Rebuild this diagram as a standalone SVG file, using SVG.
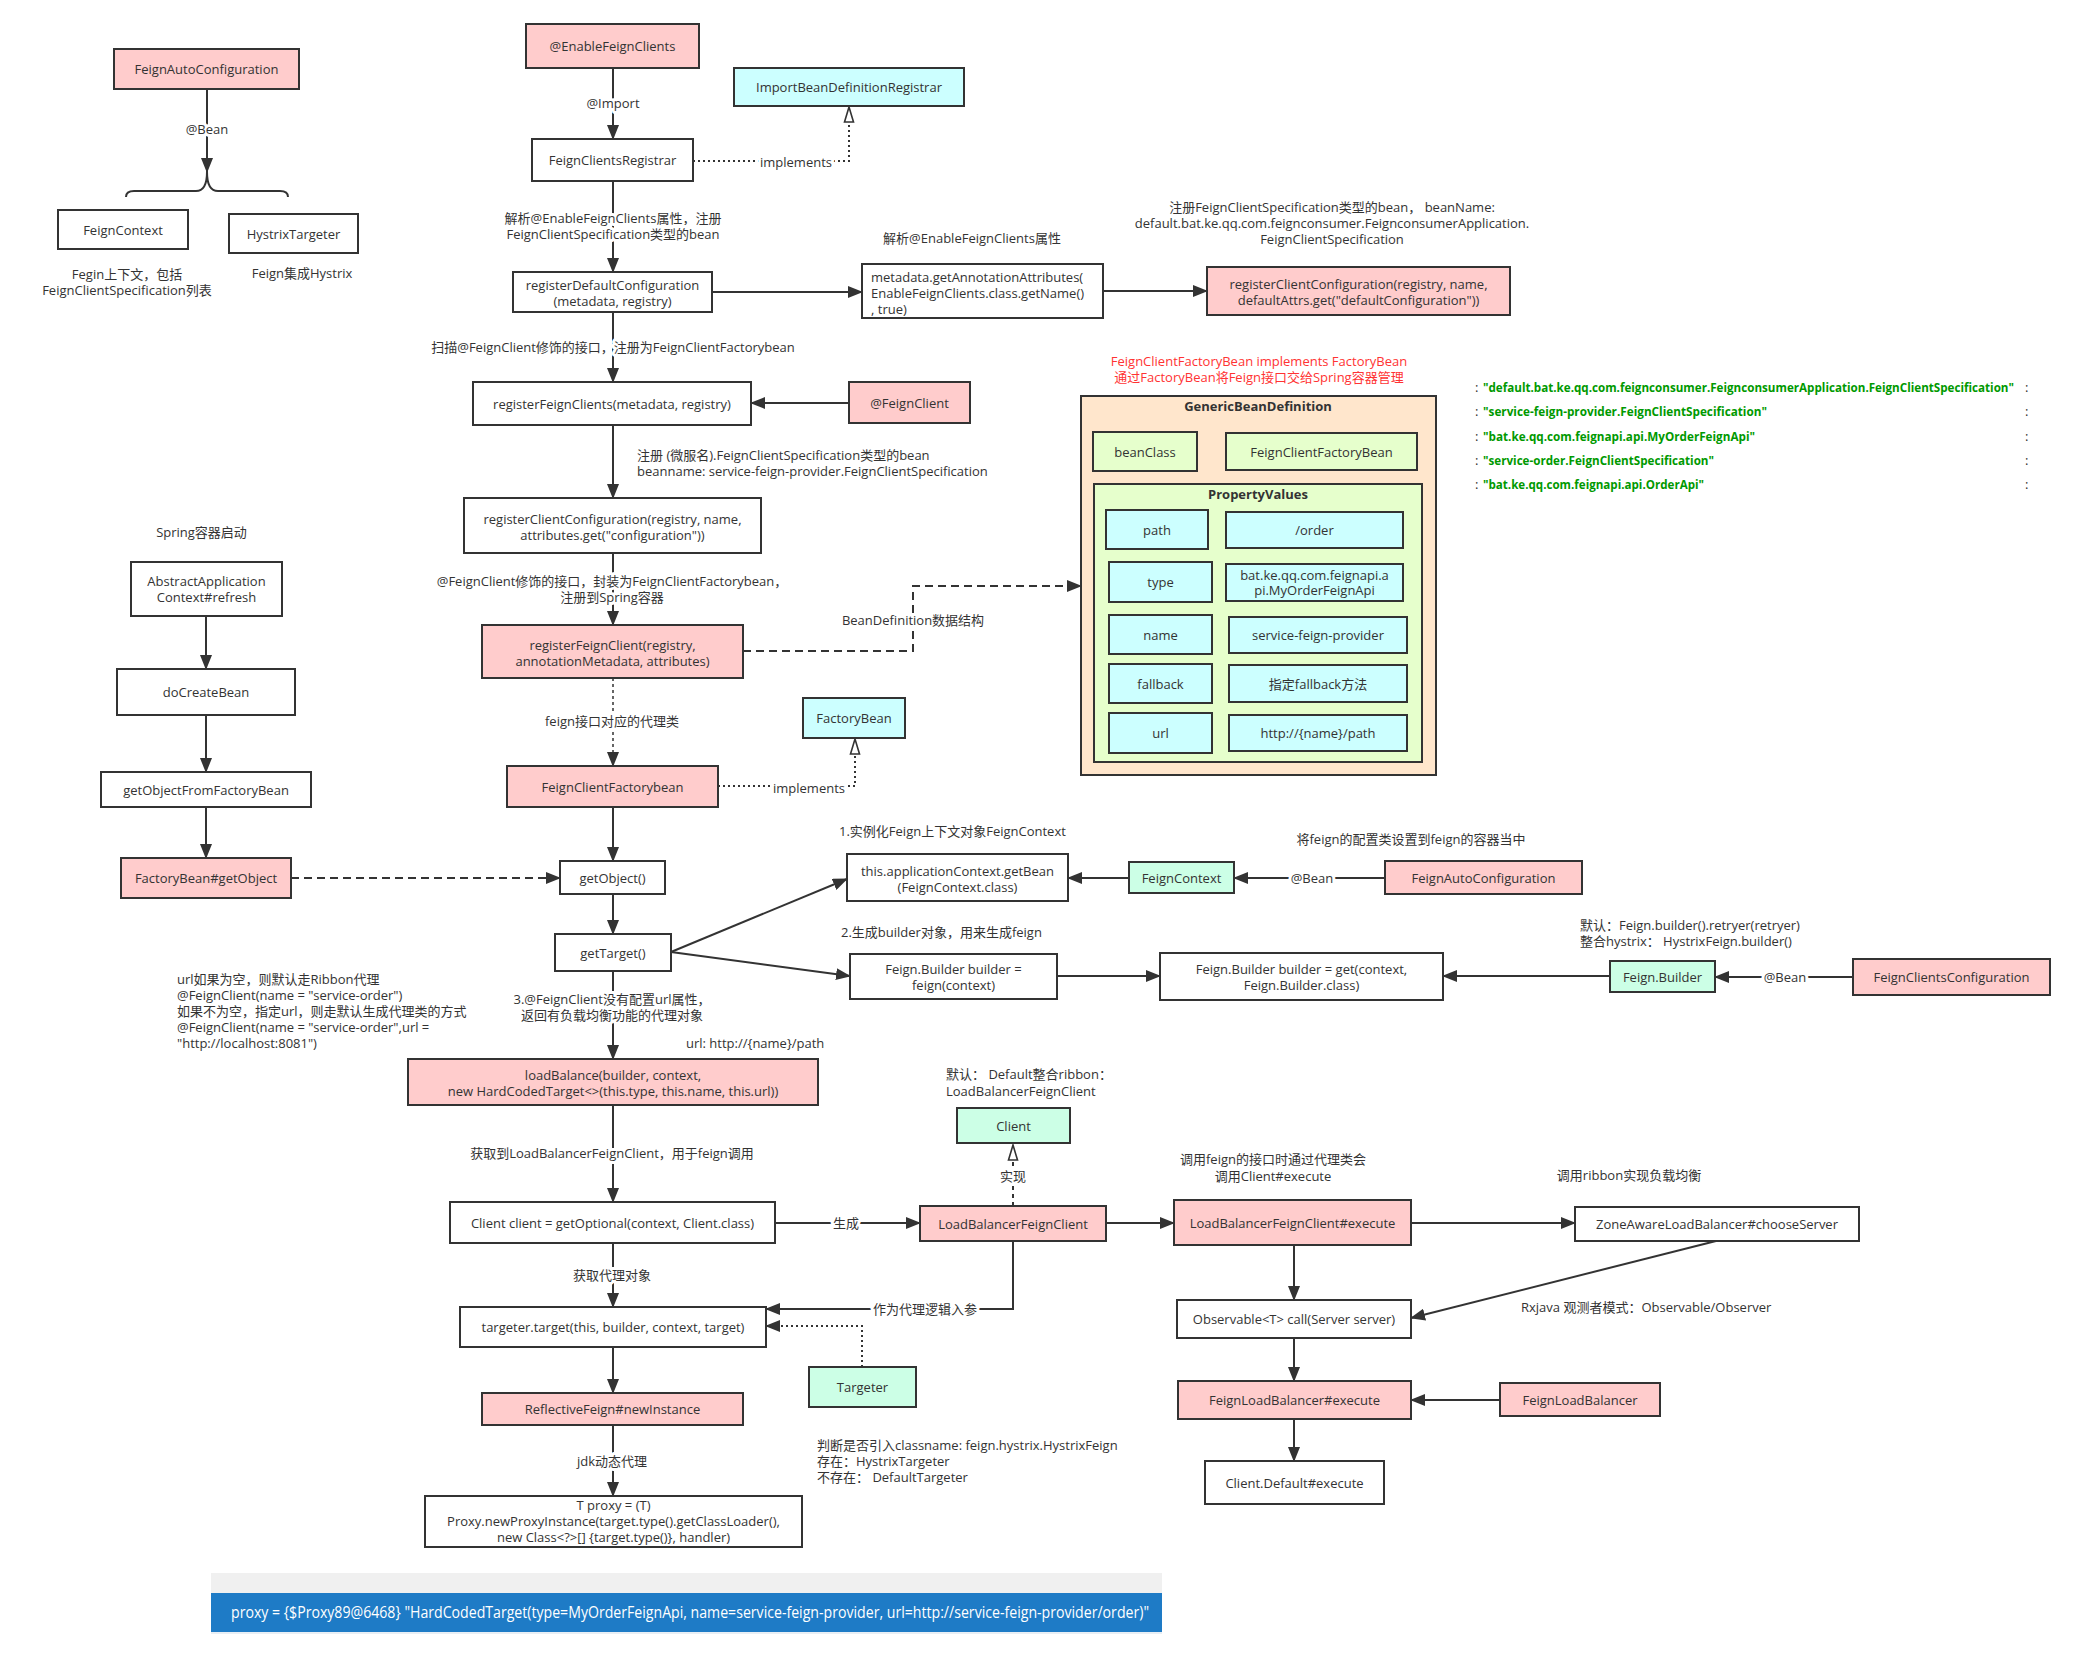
<svg xmlns="http://www.w3.org/2000/svg" width="2074" height="1662" viewBox="0 0 2074 1662">
<style>
text{font-family:"Open Sans","Noto Sans CJK SC",sans-serif;font-size:13px;fill:#333;dominant-baseline:central}
.c{text-anchor:middle}
.bx{stroke:#333;stroke-width:2;fill:#fff}
.pink{fill:#FFCCCC}
.cyan{fill:#CCFFFF}
.green{fill:#CCFFE6}
.lg{fill:#E6FFCC}
.peach{fill:#FFE6CC}
.ln{stroke:#333;stroke-width:2;fill:none}
.dash{stroke-dasharray:8 5}
.dot{stroke-dasharray:2 3}
.dot2{stroke-dasharray:3 3;stroke-width:1.5}
.lbl{paint-order:stroke;stroke:#fff;stroke-width:6px;stroke-linejoin:round}
.bold{font-weight:bold}
.red{fill:#FF3333}
.gr{fill:#009900;font-weight:bold;font-size:13px}
</style>
<defs>
<marker id="a" markerUnits="userSpaceOnUse" markerWidth="15" markerHeight="12" refX="14" refY="6" orient="auto"><path d="M0,0 L15,6 L0,12 Z" fill="#333"/></marker>
<marker id="h" markerUnits="userSpaceOnUse" markerWidth="18" markerHeight="12" refX="16" refY="6" orient="auto"><path d="M1,1.5 L16,6 L1,10.5 Z" fill="#fff" stroke="#333" stroke-width="1.6"/></marker>
</defs>
<rect width="2074" height="1662" fill="#fff"/>

<g id="connectors">
<path class="ln" d="M207,89 V172" marker-end="url(#a)"/>
<path class="ln" d="M126,197 Q126,191 134,191 L196,191 Q207,191 207,172 Q207,191 218,191 L280,191 Q288,191 288,197"/>
<path class="ln" d="M613,68 V139" marker-end="url(#a)"/>
<path class="ln dot" d="M693,161 H849 V107" marker-end="url(#h)"/>
<path class="ln" d="M613,181 V272" marker-end="url(#a)"/>
<path class="ln" d="M712,292 H862" marker-end="url(#a)"/>
<path class="ln" d="M1103,291 H1207" marker-end="url(#a)"/>
<path class="ln" d="M613,312 V382" marker-end="url(#a)"/>
<path class="ln" d="M849,403 H751" marker-end="url(#a)"/>
<path class="ln" d="M613,425 V498" marker-end="url(#a)"/>
<path class="ln" d="M613,553 V625" marker-end="url(#a)"/>
<path class="ln dash" d="M743,651 H913 V586 H1081" marker-end="url(#a)"/>
<path class="ln dot2" d="M613,678 V766" marker-end="url(#a)"/>
<path class="ln dot" d="M718,786 H855 V739" marker-end="url(#h)"/>
<path class="ln" d="M613,807 V861" marker-end="url(#a)"/>
<path class="ln" d="M206,616 V669" marker-end="url(#a)"/>
<path class="ln" d="M206,715 V772" marker-end="url(#a)"/>
<path class="ln" d="M206,807 V858" marker-end="url(#a)"/>
<path class="ln dash" d="M291,878 H560" marker-end="url(#a)"/>
<path class="ln" d="M613,894 V934" marker-end="url(#a)"/>
<path class="ln" d="M671,952 L847,879" marker-end="url(#a)"/>
<path class="ln" d="M671,952 L850,976" marker-end="url(#a)"/>
<path class="ln" d="M1129,878 H1068" marker-end="url(#a)"/>
<path class="ln" d="M1385,878 H1234" marker-end="url(#a)"/>
<path class="ln" d="M1057,976 H1160" marker-end="url(#a)"/>
<path class="ln" d="M1610,976 H1443" marker-end="url(#a)"/>
<path class="ln" d="M1853,977 H1715" marker-end="url(#a)"/>
<path class="ln" d="M613,971 V1059" marker-end="url(#a)"/>
<path class="ln" d="M613,1105 V1202" marker-end="url(#a)"/>
<path class="ln" d="M775,1223 H920" marker-end="url(#a)"/>
<path class="ln" d="M1013,1206 V1145" stroke-dasharray="4 4" marker-end="url(#h)"/>
<path class="ln" d="M1106,1223 H1174" marker-end="url(#a)"/>
<path class="ln" d="M1411,1223 H1575" marker-end="url(#a)"/>
<path class="ln" d="M1294,1245 V1300" marker-end="url(#a)"/>
<path class="ln" d="M1716,1241 L1411,1318" marker-end="url(#a)"/>
<path class="ln" d="M1294,1338 V1381" marker-end="url(#a)"/>
<path class="ln" d="M1500,1400 H1411" marker-end="url(#a)"/>
<path class="ln" d="M1294,1419 V1461" marker-end="url(#a)"/>
<path class="ln" d="M1013,1241 V1309 H766" marker-end="url(#a)"/>
<path class="ln dot" d="M862,1367 V1326 H766" marker-end="url(#a)"/>
<path class="ln" d="M613,1243 V1307" marker-end="url(#a)"/>
<path class="ln" d="M613,1347 V1393" marker-end="url(#a)"/>
<path class="ln" d="M613,1425 V1496" marker-end="url(#a)"/>
<text class="c lbl" x="207" y="129">@Bean</text>
<text class="c lbl" x="613" y="103">@Import</text>
<text class="c lbl" x="796" y="162">implements</text>
<text class="c lbl" x="613" y="218">解析@EnableFeignClients属性，注册</text>
<text class="c lbl" x="613" y="234">FeignClientSpecification类型的bean</text>
<text class="c lbl" x="613" y="347">扫描@FeignClient修饰的接口，注册为FeignClientFactorybean</text>
<text class="c lbl" x="612" y="581">@FeignClient修饰的接口，封装为FeignClientFactorybean，</text>
<text class="c lbl" x="612" y="597">注册到Spring容器</text>
<text class="c lbl" x="913" y="620">BeanDefinition数据结构</text>
<text class="c lbl" x="612" y="721">feign接口对应的代理类</text>
<text class="c lbl" x="809" y="788">implements</text>
<text class="c lbl" x="1312" y="878">@Bean</text>
<text class="c lbl" x="1785" y="977">@Bean</text>
<text class="c lbl" x="612" y="999">3.@FeignClient没有配置url属性，</text>
<text class="c lbl" x="612" y="1015">返回有负载均衡功能的代理对象</text>
<text class="c lbl" x="612" y="1153">获取到LoadBalancerFeignClient，用于feign调用</text>
<text class="c lbl" x="846" y="1223">生成</text>
<text class="c lbl" x="1013" y="1176">实现</text>
<text class="c lbl" x="925" y="1309">作为代理逻辑入参</text>
<text class="c lbl" x="612" y="1275">获取代理对象</text>
<text class="c lbl" x="612" y="1461">jdk动态代理</text>
</g>

<g id="n-feignauto1"><rect class="bx pink" x="114" y="49" width="185" height="40"/><text class="c" x="206.5" y="69">FeignAutoConfiguration</text></g>
<g id="n-feigncontext1"><rect class="bx" x="58" y="210" width="130" height="39"/><text class="c" x="123" y="229.5">FeignContext</text></g>
<g id="n-hystrix"><rect class="bx" x="229" y="214" width="129" height="39"/><text class="c" x="293.5" y="233.5">HystrixTargeter</text></g>
<g id="t-notes1">
<text class="c" x="127" y="274">Fegin上下文，包括</text>
<text class="c" x="127" y="290">FeignClientSpecification列表</text>
<text class="c" x="302" y="273">Feign集成Hystrix</text>
</g>
<g id="n-enable"><rect class="bx pink" x="526" y="24" width="173" height="44"/><text class="c" x="612.5" y="46">@EnableFeignClients</text></g>
<g id="n-importbdr"><rect class="bx cyan" x="734" y="68" width="230" height="38"/><text class="c" x="849" y="87">ImportBeanDefinitionRegistrar</text></g>
<g id="n-registrar"><rect class="bx" x="532" y="139" width="161" height="42"/><text class="c" x="612.5" y="160">FeignClientsRegistrar</text></g>
<g id="n-regdefault"><rect class="bx" x="513" y="272" width="199" height="40"/><text class="c" x="612.5" y="285">registerDefaultConfiguration</text><text class="c" x="612.5" y="301">(metadata, registry)</text></g>
<g id="t-parse"><text class="c" x="972" y="238">解析@EnableFeignClients属性</text></g>
<g id="n-metadata"><rect class="bx" x="862" y="264" width="241" height="54"/><text x="871" y="277">metadata.getAnnotationAttributes(</text><text x="871" y="293">EnableFeignClients.class.getName()</text><text x="871" y="309">, true)</text></g>
<g id="t-regspec"><text class="c" x="1332" y="207">注册FeignClientSpecification类型的bean，  beanName:</text><text class="c" x="1332" y="223">default.bat.ke.qq.com.feignconsumer.FeignconsumerApplication.</text><text class="c" x="1332" y="239">FeignClientSpecification</text></g>
<g id="n-regclientconf1"><rect class="bx pink" x="1207" y="267" width="303" height="48"/><text class="c" x="1358.5" y="284">registerClientConfiguration(registry, name,</text><text class="c" x="1358.5" y="300">defaultAttrs.get("defaultConfiguration"))</text></g>
<g id="n-regfeignclients"><rect class="bx" x="473" y="382" width="278" height="43"/><text class="c" x="612" y="403.5">registerFeignClients(metadata, registry)</text></g>
<g id="n-feignclient"><rect class="bx pink" x="849" y="382" width="121" height="41"/><text class="c" x="909.5" y="402.5">@FeignClient</text></g>
<g id="t-regbean"><text x="637" y="455">注册 (微服名).FeignClientSpecification类型的bean</text><text x="637" y="471">beanname: service-feign-provider.FeignClientSpecification</text></g>
<g id="n-regclientconf2"><rect class="bx" x="464" y="498" width="297" height="55"/><text class="c" x="612.5" y="519">registerClientConfiguration(registry, name,</text><text class="c" x="612.5" y="535">attributes.get("configuration"))</text></g>
<g id="n-regfeignclient"><rect class="bx pink" x="482" y="625" width="261" height="53"/><text class="c" x="612.5" y="645">registerFeignClient(registry,</text><text class="c" x="612.5" y="661">annotationMetadata, attributes)</text></g>
<g id="n-fcfb"><rect class="bx pink" x="507" y="766" width="211" height="41"/><text class="c" x="612.5" y="786.5">FeignClientFactorybean</text></g>
<g id="n-factorybean"><rect class="bx cyan" x="803" y="698" width="102" height="40"/><text class="c" x="854" y="718">FactoryBean</text></g>

<g id="t-red"><text class="c red" x="1259" y="361">FeignClientFactoryBean  implements FactoryBean</text><text class="c red" x="1259" y="377">通过FactoryBean将Feign接口交给Spring容器管理</text></g>
<g id="n-gbd">
<rect class="bx peach" x="1081" y="396" width="355" height="379"/>
<text class="c bold" x="1258" y="406">GenericBeanDefinition</text>
<rect class="bx lg" x="1093" y="432" width="104" height="39"/><text class="c" x="1145" y="451.5">beanClass</text>
<rect class="bx lg" x="1226" y="433" width="191" height="37"/><text class="c" x="1321.5" y="451.5">FeignClientFactoryBean</text>
<rect class="bx lg" x="1094" y="484" width="328" height="278"/>
<text class="c bold" x="1258" y="494">PropertyValues</text>
<rect class="bx cyan" x="1106" y="510" width="102" height="39"/><text class="c" x="1157" y="529.5">path</text>
<rect class="bx cyan" x="1226" y="512" width="177" height="36"/><text class="c" x="1314.5" y="530">/order</text>
<rect class="bx cyan" x="1109" y="562" width="103" height="40"/><text class="c" x="1160.5" y="582">type</text>
<rect class="bx cyan" x="1226" y="564" width="177" height="37"/><text class="c" x="1314.5" y="575">bat.ke.qq.com.feignapi.a</text><text class="c" x="1314.5" y="590">pi.MyOrderFeignApi</text>
<rect class="bx cyan" x="1109" y="615" width="103" height="39"/><text class="c" x="1160.5" y="634.5">name</text>
<rect class="bx cyan" x="1229" y="617" width="178" height="36"/><text class="c" x="1318" y="635">service-feign-provider</text>
<rect class="bx cyan" x="1109" y="664" width="103" height="39"/><text class="c" x="1160.5" y="683.5">fallback</text>
<rect class="bx cyan" x="1229" y="665" width="178" height="37"/><text class="c" x="1318" y="683.5">指定fallback方法</text>
<rect class="bx cyan" x="1109" y="713" width="103" height="40"/><text class="c" x="1160.5" y="733">url</text>
<rect class="bx cyan" x="1229" y="715" width="178" height="36"/><text class="c" x="1318" y="733">http://{name}/path</text>
</g>
<g id="t-green">
<text x="1475" y="387" fill="#777">:</text><text class="gr" x="1483" y="387" textLength="531" lengthAdjust="spacingAndGlyphs">"default.bat.ke.qq.com.feignconsumer.FeignconsumerApplication.FeignClientSpecification"</text>
<text x="1475" y="411" fill="#777">:</text><text class="gr" x="1483" y="411" textLength="284" lengthAdjust="spacingAndGlyphs">"service-feign-provider.FeignClientSpecification"</text>
<text x="1475" y="436" fill="#777">:</text><text class="gr" x="1483" y="436" textLength="272" lengthAdjust="spacingAndGlyphs">"bat.ke.qq.com.feignapi.api.MyOrderFeignApi"</text>
<text x="1475" y="460" fill="#777">:</text><text class="gr" x="1483" y="460" textLength="231" lengthAdjust="spacingAndGlyphs">"service-order.FeignClientSpecification"</text>
<text x="1475" y="484" fill="#777">:</text><text class="gr" x="1483" y="484" textLength="221" lengthAdjust="spacingAndGlyphs">"bat.ke.qq.com.feignapi.api.OrderApi"</text>
<text x="2025" y="387" fill="#ddd">:</text><text x="2025" y="411" fill="#ddd">:</text><text x="2025" y="436" fill="#ddd">:</text><text x="2025" y="460" fill="#ddd">:</text><text x="2025" y="484" fill="#ddd">:</text>
</g>

<g id="t-spring"><text class="c" x="201.5" y="532">Spring容器启动</text></g>
<g id="n-refresh"><rect class="bx" x="131" y="562" width="151" height="54"/><text class="c" x="206.5" y="581">AbstractApplication</text><text class="c" x="206.5" y="597">Context#refresh</text></g>
<g id="n-docreate"><rect class="bx" x="117" y="669" width="178" height="46"/><text class="c" x="206" y="692">doCreateBean</text></g>
<g id="n-getobjfb"><rect class="bx" x="101" y="772" width="210" height="35"/><text class="c" x="206" y="789.5">getObjectFromFactoryBean</text></g>
<g id="n-fbgetobj"><rect class="bx pink" x="121" y="858" width="170" height="40"/><text class="c" x="206" y="878">FactoryBean#getObject</text></g>
<g id="n-getobject"><rect class="bx" x="560" y="861" width="105" height="33"/><text class="c" x="612.5" y="877.5">getObject()</text></g>
<g id="n-gettarget"><rect class="bx" x="555" y="934" width="116" height="37"/><text class="c" x="613" y="952.5">getTarget()</text></g>

<g id="t-step1"><text x="839" y="831">1.实例化Feign上下文对象FeignContext</text><text class="c" x="1411" y="839">将feign的配置类设置到feign的容器当中</text><text x="841" y="932">2.生成builder对象，用来生成feign</text></g>
<g id="n-getbean"><rect class="bx" x="847" y="854" width="221" height="47"/><text class="c" x="957.5" y="871">this.applicationContext.getBean</text><text class="c" x="957.5" y="887">(FeignContext.class)</text></g>
<g id="n-feigncontext2"><rect class="bx green" x="1129" y="862" width="105" height="31"/><text class="c" x="1181.5" y="877.5">FeignContext</text></g>
<g id="n-feignauto2"><rect class="bx pink" x="1385" y="861" width="197" height="33"/><text class="c" x="1483.5" y="877.5">FeignAutoConfiguration</text></g>
<g id="n-builder1"><rect class="bx" x="850" y="954" width="207" height="45"/><text class="c" x="953.5" y="969">Feign.Builder builder =</text><text class="c" x="953.5" y="985">feign(context)</text></g>
<g id="n-builder2"><rect class="bx" x="1160" y="953" width="283" height="47"/><text class="c" x="1301.5" y="969">Feign.Builder builder = get(context,</text><text class="c" x="1301.5" y="985">Feign.Builder.class)</text></g>
<g id="t-default"><text x="1580" y="925">默认：Feign.builder().retryer(retryer)</text><text x="1580" y="941">整合hystrix：  HystrixFeign.builder()</text></g>
<g id="n-feignbuilder"><rect class="bx green" x="1610" y="961" width="105" height="31"/><text class="c" x="1662.5" y="976.5">Feign.Builder</text></g>
<g id="n-fcconf"><rect class="bx pink" x="1853" y="959" width="197" height="36"/><text class="c" x="1951.5" y="977">FeignClientsConfiguration</text></g>

<g id="t-urlnote">
<text x="177" y="979">url如果为空，则默认走Ribbon代理</text>
<text x="177" y="995">@FeignClient(name = "service-order")</text>
<text x="177" y="1011">如果不为空，指定url，则走默认生成代理类的方式</text>
<text x="177" y="1027">@FeignClient(name = "service-order",url =</text>
<text x="177" y="1043">"http://localhost:8081")</text>
<text x="686" y="1043">url:  http://{name}/path</text>
</g>
<g id="n-loadbalance"><rect class="bx pink" x="408" y="1059" width="410" height="46"/><text class="c" x="613" y="1075">loadBalance(builder, context,</text><text class="c" x="613" y="1091">new HardCodedTarget&lt;&gt;(this.type, this.name, this.url))</text></g>
<g id="n-clientclient"><rect class="bx" x="450" y="1202" width="325" height="41"/><text class="c" x="612.5" y="1222.5">Client client = getOptional(context, Client.class)</text></g>
<g id="t-ribbon"><text x="946" y="1074">默认：  Default整合ribbon：</text><text x="946" y="1091">LoadBalancerFeignClient</text></g>
<g id="n-client"><rect class="bx green" x="957" y="1108" width="113" height="35"/><text class="c" x="1013.5" y="1125.5">Client</text></g>
<g id="n-lbfc"><rect class="bx pink" x="920" y="1206" width="186" height="35"/><text class="c" x="1013" y="1223.5">LoadBalancerFeignClient</text></g>
<g id="t-exec"><text class="c" x="1273" y="1159">调用feign的接口时通过代理类会</text><text class="c" x="1273" y="1176">调用Client#execute</text><text class="c" x="1629" y="1175">调用ribbon实现负载均衡</text><text x="1521" y="1307">Rxjava 观测者模式：Observable/Observer</text></g>
<g id="n-lbfcexec"><rect class="bx pink" x="1174" y="1200" width="237" height="45"/><text class="c" x="1292.5" y="1222.5">LoadBalancerFeignClient#execute</text></g>
<g id="n-zoneaware"><rect class="bx" x="1575" y="1207" width="284" height="34"/><text class="c" x="1717" y="1224">ZoneAwareLoadBalancer#chooseServer</text></g>
<g id="n-observable"><rect class="bx" x="1177" y="1300" width="234" height="38"/><text class="c" x="1294" y="1319">Observable&lt;T&gt; call(Server server)</text></g>
<g id="n-flbexec"><rect class="bx pink" x="1178" y="1381" width="233" height="38"/><text class="c" x="1294.5" y="1400">FeignLoadBalancer#execute</text></g>
<g id="n-flb"><rect class="bx pink" x="1500" y="1383" width="160" height="33"/><text class="c" x="1580" y="1399.5">FeignLoadBalancer</text></g>
<g id="n-clientdefault"><rect class="bx" x="1205" y="1461" width="179" height="43"/><text class="c" x="1294.5" y="1482.5">Client.Default#execute</text></g>
<g id="n-targetertarget"><rect class="bx" x="460" y="1307" width="306" height="40"/><text class="c" x="613" y="1327">targeter.target(this, builder, context, target)</text></g>
<g id="n-targeter"><rect class="bx green" x="809" y="1367" width="107" height="40"/><text class="c" x="862.5" y="1387">Targeter</text></g>
<g id="t-hystrixnote"><text x="817" y="1445">判断是否引入classname: feign.hystrix.HystrixFeign</text><text x="817" y="1461">存在：HystrixTargeter</text><text x="817" y="1477">不存在：  DefaultTargeter</text></g>
<g id="n-reflective"><rect class="bx pink" x="482" y="1393" width="261" height="32"/><text class="c" x="612.5" y="1409">ReflectiveFeign#newInstance</text></g>
<g id="n-tproxy"><rect class="bx" x="425" y="1496" width="377" height="51"/><text class="c" x="613.5" y="1505">T proxy = (T)</text><text class="c" x="613.5" y="1521">Proxy.newProxyInstance(target.type().getClassLoader(),</text><text class="c" x="613.5" y="1537">new Class&lt;?&gt;[] {target.type()}, handler)</text></g>

<g id="screenshot">
<rect x="211" y="1573" width="951" height="20" fill="#F0F0F0"/>
<rect x="211" y="1593" width="951" height="39" fill="#1E7BC6"/>
<rect x="211" y="1632" width="951" height="2" fill="#E8EEF4"/>
<text x="231" y="1612" style="fill:#fff;font-size:16px" textLength="918" lengthAdjust="spacingAndGlyphs">proxy = {$Proxy89@6468} "HardCodedTarget(type=MyOrderFeignApi, name=service-feign-provider, url=http://service-feign-provider/order)"</text>
</g>
</svg>
